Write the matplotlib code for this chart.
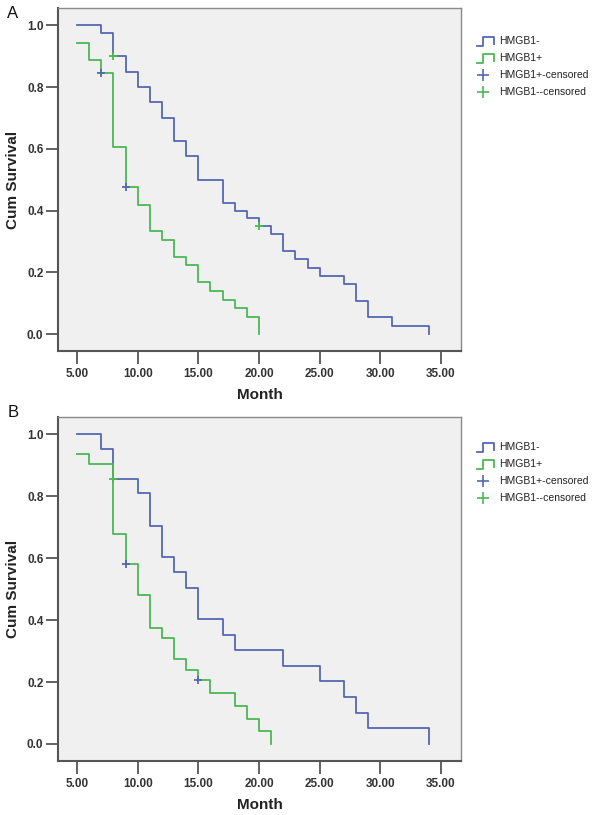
import matplotlib
matplotlib.use("Agg")
import matplotlib.pyplot as plt
from matplotlib.lines import Line2D

plt.rcParams['font.family'] = ['Liberation Sans', 'DejaVu Sans']

# Panel A
a_neg_t = [5, 7, 8, 9, 10, 11, 12, 13, 14, 15, 17, 18, 19, 20, 21, 22, 23, 24, 25, 27, 28, 29, 31, 34]
a_neg_s = [1.0, 0.975, 0.9, 0.85, 0.8, 0.75, 0.7, 0.625, 0.575, 0.5, 0.425, 0.4, 0.375, 0.35,
           0.323, 0.269, 0.242, 0.215, 0.188, 0.161, 0.108, 0.054, 0.027, 0.0]
a_pos_t = [5, 6, 7, 8, 9, 10, 11, 12, 13, 14, 15, 16, 17, 18, 19, 20]
a_pos_s = [0.944, 0.889, 0.844, 0.606, 0.475, 0.417, 0.333, 0.306, 0.25, 0.222, 0.167,
           0.139, 0.111, 0.083, 0.056, 0.0]
a_cens_neg = [(8, 0.9), (20, 0.35)]      # marks on HMGB1- curve (drawn green)
a_cens_pos = [(7, 0.844), (9, 0.475)]    # marks on HMGB1+ curve (drawn blue)

# Panel B
b_neg_t = [5, 7, 8, 10, 11, 12, 13, 14, 15, 17, 18, 22, 25, 27, 28, 29, 34]
b_neg_s = [1.0, 0.952, 0.857, 0.81, 0.705, 0.605, 0.555, 0.505, 0.403, 0.353, 0.303,
           0.252, 0.202, 0.151, 0.101, 0.05, 0.0]
b_pos_t = [5, 6, 8, 9, 10, 11, 12, 13, 14, 15, 16, 18, 19, 20, 21]
b_pos_s = [0.937, 0.903, 0.679, 0.581, 0.48, 0.376, 0.342, 0.274, 0.239, 0.205, 0.164,
           0.123, 0.082, 0.041, 0.0]
b_cens_neg = [(8, 0.857)]
b_cens_pos = [(9, 0.581), (15, 0.207)]

xticks = [5, 10, 15, 20, 25, 30, 35]
yticks = [0.0, 0.2, 0.4, 0.6, 0.8, 1.0]
legend_labels = ["HMGB1-", "HMGB1+", "HMGB1+-censored", "HMGB1--censored"]

BLUE = "#5468b0"
GREEN = "#4cb854"

W, H = 600, 815
fig = plt.figure(figsize=(6, 8.15), dpi=100)


def px(x, y):
    return x / W, 1 - y / H


def panel(rect, neg_t, neg_s, pos_t, pos_s, cens_neg, cens_pos):
    ax = fig.add_axes(rect)
    ax.set_facecolor("#f0f0f0")
    ax.step(neg_t, neg_s, where="post", color=BLUE, lw=1.3)
    ax.step(pos_t, pos_s, where="post", color=GREEN, lw=1.3)
    for x, y in cens_neg:
        ax.plot(x, y, marker="+", color=GREEN, ms=6, mew=1.3)
    for x, y in cens_pos:
        ax.plot(x, y, marker="+", color=BLUE, ms=6, mew=1.3)
    ax.set_xlim(3.43, 36.65)
    ax.set_ylim(-0.055, 1.056)
    ax.set_xticks(xticks)
    ax.set_xticklabels(["%.2f" % v for v in xticks])
    ax.set_yticks(yticks)
    ax.set_yticklabels(["%.1f" % v for v in yticks])
    ax.tick_params(length=9, width=1.3, color="#555555", labelsize=8.5,
                   labelcolor="#333333")
    ax.tick_params(axis="y", pad=1.5)
    ax.tick_params(axis="x", pad=3)
    for lab in ax.get_xticklabels() + ax.get_yticklabels():
        lab.set_fontweight("bold")
    for s in ["left", "bottom"]:
        ax.spines[s].set_color("#555555")
        ax.spines[s].set_linewidth(1.5)
    for s in ["top", "right"]:
        ax.spines[s].set_color("#8a8a8a")
        ax.spines[s].set_linewidth(1.0)
    ax.set_xlabel("Month", fontsize=11, fontweight="bold", color="#222222", labelpad=6)
    ax.set_ylabel("Cum Survival", fontsize=11, fontweight="bold", color="#222222")
    ax.yaxis.set_label_coords((20 - 58) / 403, 0.5)
    return ax


def legend(y0):
    # step-shaped icons and crosses, drawn by hand like the SPSS legend
    for i, col in enumerate([BLUE, GREEN]):
        y = y0 + 17 * i
        xs = [477, 483, 483, 494, 494]
        ys = [y + 5, y + 5, y - 4, y - 4, y + 3]
        pts = [px(a, b) for a, b in zip(xs, ys)]
        fig.add_artist(Line2D([p[0] for p in pts], [p[1] for p in pts],
                              color=col, lw=1.3, transform=fig.transFigure))
    for i, col in enumerate([BLUE, GREEN]):
        y = y0 + 34 + 17 * i
        xx, yy = px(483, y)
        fig.add_artist(Line2D([xx], [yy], marker="+", ms=8, mew=1.2, color=col,
                              transform=fig.transFigure))
    for i, lab in enumerate(legend_labels):
        xx, yy = px(499, y0 + 17 * i)
        fig.text(xx, yy, lab, fontsize=7.5, color="#222222", va="center", ha="left")


panel([58 / W, 1 - 351 / H, 403 / W, 343 / H],
      a_neg_t, a_neg_s, a_pos_t, a_pos_s, a_cens_neg, a_cens_pos)
panel([58 / W, 1 - 761 / H, 403 / W, 344 / H],
      b_neg_t, b_neg_s, b_pos_t, b_pos_s, b_cens_neg, b_cens_pos)

legend(41)
legend(447)

fig.text(*px(13, 14), "A", fontsize=12, ha="center", va="center", color="#111111")
fig.text(*px(13, 413), "B", fontsize=12, ha="center", va="center", color="#111111")

fig.savefig("out.png", dpi=100, facecolor="white")
